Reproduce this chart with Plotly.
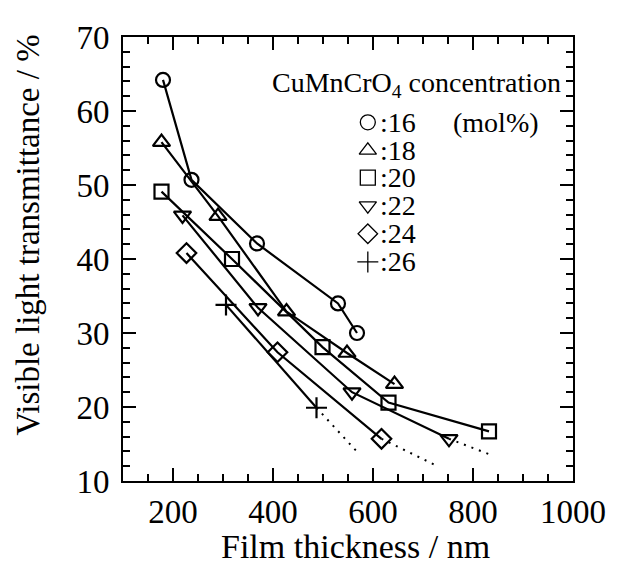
import plotly.graph_objects as go

FONT = "Liberation Serif"

# concentration labels (mol%)
conc_labels = [":16", ":18", ":20", ":22", ":24", ":26"]
symbols = ["circle-open", "triangle-up-open", "square-open",
           "triangle-down-open", "diamond-open", "cross-thin-open"]

# measured data: film thickness (nm) vs visible light transmittance (%)
x16 = [180, 237, 368, 530, 568]
y16 = [64.2, 50.7, 42.1, 34.0, 30.0]
x18 = [177, 290, 427, 548, 643]
y18 = [55.8, 45.8, 32.9, 27.3, 23.1]
x20 = [177, 318, 499, 631, 832]
y20 = [49.1, 40.0, 28.1, 20.6, 16.7]
x22 = [219, 370, 558, 752]
y22 = [45.9, 33.4, 22.0, 15.7]
x24 = [227, 409, 617]
y24 = [40.8, 27.4, 15.7]
x26 = [306, 487]
y26 = [33.8, 19.9]

# dotted extrapolations (start = last point, end = extrapolated)
ext22_x = [752, 841]
ext22_y = [15.7, 13.4]
ext24_x = [617, 723]
ext24_y = [15.7, 12.2]
ext26_x = [487, 566]
ext26_y = [19.9, 14.1]

xs = [x16, x18, x20, x22, x24, x26]
ys = [y16, y18, y20, y22, y24, y26]
exts = [(ext22_x, ext22_y), (ext24_x, ext24_y), (ext26_x, ext26_y)]

x_ticks = [200, 400, 600, 800, 1000]
y_ticks = [10, 20, 30, 40, 50, 60, 70]

fig = go.Figure()

for ex, ey in exts:
    fig.add_trace(go.Scatter(x=ex, y=ey, mode="lines",
                             line=dict(color="black", width=2, dash="2px,6px"),
                             showlegend=False, hoverinfo="skip"))

sizes = [14, 15, 14, 15, 15, 15]
for xv, yv, sym, sz in zip(xs, ys, symbols, sizes):
    fig.add_trace(go.Scatter(
        x=xv, y=yv, mode="lines+markers",
        line=dict(color="black", width=2.2),
        marker=dict(symbol=sym, size=sz, color="black",
                    line=dict(color="black", width=2.2)),
        showlegend=False, cliponaxis=False))

# the page body adds an 8px margin; the figure is offset so the plot area lands on target pixels
OFF = 8
top, bottom, left, right = 23, 481, 123, 577

leg_rows_px = [111, 140, 168, 197, 226, 255]
leg_y = [(bottom - p) / (bottom - top) for p in leg_rows_px]
leg_mx = (370 - left) / (right - left)
leg_tx = (380 - left) / (right - left)

fig.add_trace(go.Scatter(
    x=[leg_mx] * len(symbols), y=leg_y, mode="markers",
    xaxis="x2", yaxis="y2",
    marker=dict(symbol=symbols, size=15, color="black",
                line=dict(color="black", width=1.3)),
    showlegend=False, cliponaxis=False))

annotations = []
for lab, yy in zip(conc_labels, leg_y):
    annotations.append(dict(x=leg_tx, y=yy, xref="paper", yref="paper",
                            text=lab, showarrow=False, xanchor="left",
                            yanchor="middle",
                            font=dict(family=FONT, size=28, color="black")))
annotations.append(dict(x=(567 - left) / (right - left), y=(bottom - 72) / (bottom - top),
                        xref="paper", yref="paper",
                        text="CuMnCrO<sub>4</sub> concentration", showarrow=False,
                        xanchor="right", yanchor="middle",
                        font=dict(family=FONT, size=28, color="black")))
annotations.append(dict(x=(499 - left) / (right - left), y=(bottom - 111) / (bottom - top),
                        xref="paper", yref="paper",
                        text="(mol%)", showarrow=False,
                        xanchor="center", yanchor="middle",
                        font=dict(family=FONT, size=28, color="black")))
annotations.append(dict(x=(358 - left) / (right - left), y=(bottom - 549) / (bottom - top),
                        xref="paper", yref="paper",
                        text="Film thickness / nm", showarrow=False,
                        xanchor="center", yanchor="middle",
                        font=dict(family=FONT, size=34, color="black")))
annotations.append(dict(x=(27 - left) / (right - left), y=(bottom - 227) / (bottom - top),
                        xref="paper", yref="paper", textangle=-90,
                        text="Visible light transmittance / %", showarrow=False,
                        xanchor="center", yanchor="middle",
                        font=dict(family=FONT, size=33, color="black")))

axis_common = dict(showline=True, linecolor="black", linewidth=2, mirror="ticks",
                   ticks="inside", ticklen=13, tickwidth=2, tickcolor="black",
                   showgrid=False, zeroline=False, ticklabeloverflow="allow",
                   tickfont=dict(family=FONT, size=33, color="black"))

fig.update_layout(
    width=618 - OFF, height=568 - OFF,
    margin=dict(l=left - OFF, r=618 - right, t=top - OFF, b=568 - bottom),
    paper_bgcolor="white", plot_bgcolor="white",
    showlegend=False,
    xaxis=dict(range=[100, 1000], tickvals=x_ticks,
               minor=dict(dtick=50, tick0=0, ticklen=7, tickwidth=2, ticks="inside",
                          tickcolor="black", showgrid=False),
               **axis_common),
    yaxis=dict(range=[10, 70], tickvals=y_ticks, ticklabelstandoff=5,
               minor=dict(dtick=2, tick0=0, ticklen=7, tickwidth=2, ticks="inside",
                          tickcolor="black", showgrid=False),
               **axis_common),
    xaxis2=dict(overlaying="x", range=[0, 1], visible=False, fixedrange=True),
    yaxis2=dict(overlaying="y", range=[0, 1], visible=False, fixedrange=True),
    annotations=annotations,
)

fig.write_html("out.html")
